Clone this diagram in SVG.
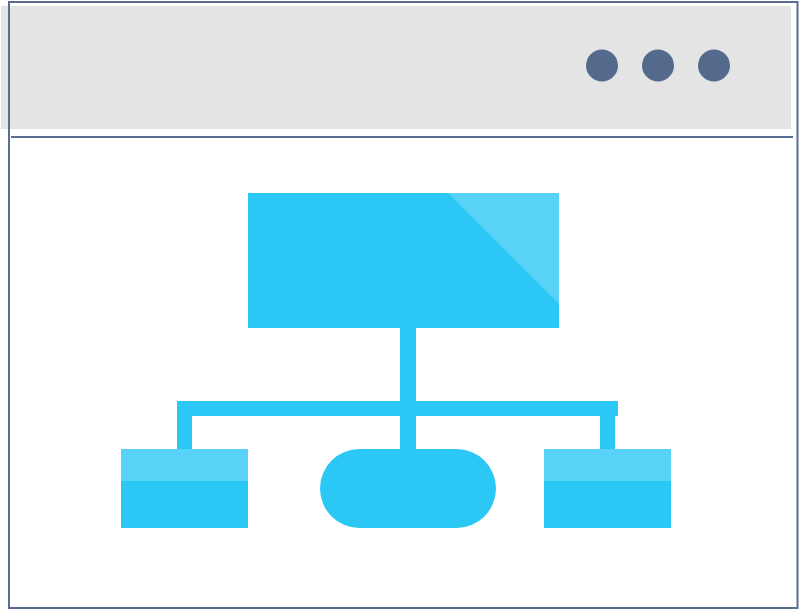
<svg xmlns="http://www.w3.org/2000/svg" width="801" height="610" viewBox="0 0 801 610">
  <style>
    .frame { fill: none; stroke: #5a6e91; stroke-width: 2; }
    .rule { stroke: #5a6e91; stroke-width: 2; }
    .dot { fill: #546a8c; }
    .main { fill: #2bc7f5; }
    .light { fill: #58d3f7; }
  </style>
  <rect width="801" height="610" fill="#ffffff"/>

  <!-- window chrome -->
  <g id="titlebar">
    <rect x="1" y="6" width="790" height="123" fill="#e4e4e4"/>
    <circle class="dot" cx="602" cy="65.5" r="16"/>
    <circle class="dot" cx="658" cy="65.5" r="16"/>
    <circle class="dot" cx="714" cy="65.5" r="16"/>
  </g>
  <rect class="frame" x="9" y="2" width="788.5" height="606"/>
  <line class="rule" x1="11" y1="137" x2="793" y2="137"/>

  <!-- connectors -->
  <g id="connectors" class="main">
    <rect x="400" y="327" width="16" height="123"/>
    <rect x="177" y="401" width="441" height="15"/>
    <rect x="177" y="401" width="15" height="49"/>
    <rect x="600" y="401" width="15" height="49"/>
  </g>

  <!-- root node -->
  <g id="root">
    <rect class="main" x="248" y="193" width="311" height="135"/>
    <polygon class="light" points="448,193 559,193 559,304"/>
  </g>

  <!-- child nodes -->
  <g id="child-left">
    <rect class="main" x="121" y="449" width="127" height="79"/>
    <rect class="light" x="121" y="449" width="127" height="32"/>
  </g>
  <g id="child-middle">
    <rect class="main" x="320" y="449" width="176" height="79" rx="39.5" ry="39.5"/>
  </g>
  <g id="child-right">
    <rect class="main" x="544" y="449" width="127" height="79"/>
    <rect class="light" x="544" y="449" width="127" height="32"/>
  </g>
</svg>
